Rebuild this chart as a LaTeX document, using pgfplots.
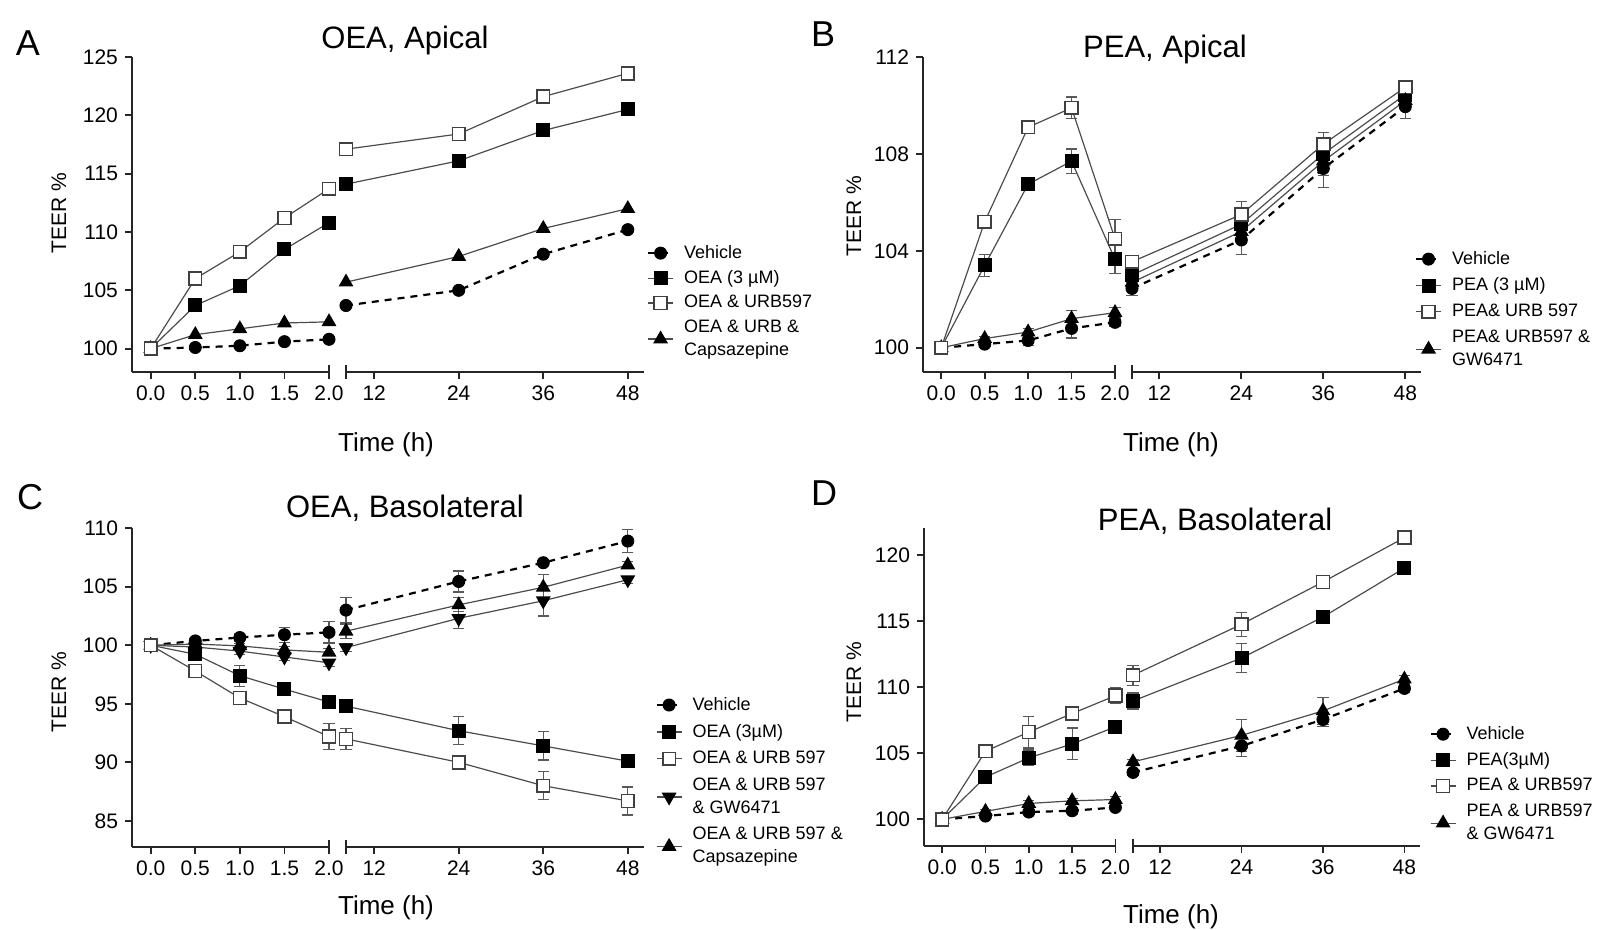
\documentclass[border=0pt]{standalone}
\usepackage{fontspec}
\setmainfont{Liberation Sans}
\usepackage{pgfplots}
\usepackage{pgfplotstable}
\pgfplotsset{compat=1.18}

% columns: time (h), mean TEER %, and SEM (e)
\pgfplotstableread{
t    veh    oea    urb    cap
0    100.0  100.0  100.0  100.0
0.5  100.1  103.7  106.0  101.2
1.0  100.25 105.4  108.3  101.7
1.5  100.6  108.5  111.2  102.2
2.0  100.8  110.8  113.7  102.3
8    103.7  114.1  117.1  105.7
24   105.0  116.1  118.4  107.9
36   108.1  118.7  121.6  110.3
48   110.2  120.5  123.6  112.0
}\tabA

\pgfplotstableread{
t    veh    vehe  pea    peae  urb    urbe  gw     gwe
0    100.0  0     100.0  0     100.0  0     100.0  0
0.5  100.15 0.15  103.4  0.45  105.2  0.2   100.38 0.1
1.0  100.3  0.2   106.75 0.1   109.1  0.1   100.65 0.15
1.5  100.8  0.4   107.7  0.5   109.9  0.45  101.2  0.35
2.0  101.05 0.15  103.65 0.6   104.5  0.8   101.45 0.2
8    102.45 0.3   103.0  0.3   103.55 0.2   102.7  0.3
24   104.45 0.6   105.1  0.6   105.5  0.55  104.8  0.5
36   107.4  0.8   108.0  0.5   108.4  0.5   107.7  0.6
48   109.95 0.5   110.45 0.3   110.75 0.2   110.2  0.3
}\tabB

\pgfplotstableread{
t    veh    vehe  oea    oeae  urb    urbe  gw     gwe   cap    cape
0    100.0  0     100.0  0     100.0  0     100.0  0     100.0  0
0.5  100.37 0.2   99.23  0.3   97.8   0.2   99.85  0.2   100.1  0.2
1.0  100.66 0.3   97.4   0.9   95.5   0.2   99.5   0.3   99.95  0.2
1.5  100.9  0.65  96.25  0.2   93.9   0.2   99.0   0.3   99.6   0.3
2.0  101.1  0.9   95.15  0.2   92.2   1.1   98.5   0.3   99.4   0.3
8    103.0  1.1   94.8   0.2   92.0   0.9   99.8   0.3   101.2  0.6
24   105.45 0.9   92.7   1.2   90.0   0.2   102.3  0.9   103.45 0.6
36   107.05 0.2   91.4   1.2   88.0   1.2   103.8  1.3   104.95 1.1
48   108.9  1.0   90.1   0.3   86.7   1.2   105.6  0.3   106.85 0.3
}\tabC

\pgfplotstableread{
t    veh    vehe  pea    peae  urb    urbe  gw     gwe
0    100.0  0     100.0  0     100.0  0     100.0  0
0.5  100.25 0.15  103.2  0.2   105.15 0.45  100.6  0.15
1.0  100.55 0.2   104.65 0.6   106.6  1.2   101.2  0.2
1.5  100.65 0.25  105.7  1.2   108.0  0.2   101.4  0.2
2.0  100.9  0.2   107.0  0.5   109.35 0.6   101.5  0.2
8    103.55 0.2   108.95 0.6   110.9  0.75  104.35 0.2
24   105.55 0.8   112.2  1.1   114.75 0.9   106.35 1.2
36   107.55 0.5   115.3  0.3   117.95 0.2   108.2  1.0
48   109.9  0.3   119.0  0.3   121.3  0.2   110.6  0.3
}\tabD

\pgfplotsset{
  brk/.style={scale only axis, clip=false,
    axis line style={line width=0.9pt, black!85, -},
    every outer x axis line/.append style={-},
    every outer y axis line/.append style={-},
    tick style={line width=0.9pt, black!85},
    tick align=outside, major tick length=3.5pt,
    tick label style={font=\fontsize{10.5}{12}\selectfont},
    /pgf/number format/assume math mode=true,
    legend image code/.code={\draw[mark repeat=2, mark phase=2, ##1] plot coordinates {(0pt,0pt) (6.25pt,0pt) (12.5pt,0pt)};},
  },
  lseg/.style={brk, axis x line*=bottom, axis y line*=left,
    xmin=-0.21, xmax=2, xtick={0,0.5,1,1.5,2}, xticklabels={0.0,0.5,1.0,1.5,2.0},
    restrict x to domain=-1:3},
  rseg/.style={brk, axis x line*=bottom, axis y line=none, ytick=\empty,
    xmin=8, xmax=50.3, xtick={12,24,36,48},
    restrict x to domain=7:60},
  leg/.style={legend cell align=left,
    legend style={at={#1}, anchor=north west, draw=none, fill=none,
      inner sep=0pt, outer sep=0pt, row sep=3.5pt, column sep=4.5pt,
      font=\fontsize{9}{11.5}\selectfont,
      nodes={inner sep=0.5pt, align=left}}},
  sveh/.style={black, line width=1.1pt, dash pattern=on 3.5pt off 3pt,
    mark=*, mark size=3pt, mark options={solid, fill=black, line width=0.5pt}},
  sfsq/.style={black!70, line width=0.6pt, mark=square*, mark size=3.2pt,
    mark options={solid, draw=black, fill=black}},
  sosq/.style={black!70, line width=0.6pt, mark=square*, mark size=3.2pt,
    mark options={solid, draw=black!75, fill=white, line width=0.8pt}},
  stri/.style={black!70, line width=0.6pt, mark=triangle*, mark size=3.7pt,
    mark options={solid, draw=black, fill=black}},
  sdtri/.style={black!70, line width=0.6pt, mark=triangle*, mark size=3.7pt,
    mark options={solid, draw=black, fill=black, rotate=180}},
  eb/.style={error bars/y dir=both, error bars/y explicit,
    error bars/error bar style={line width=0.6pt, black!65, solid},
    error bars/error mark options={rotate=90, line width=0.6pt, black!65, mark size=2.8pt, solid}},
}

\newcommand{\brkmark}[1]{\draw[line width=0.9pt, black!85] ([yshift=-3.5pt]rel axis cs:#1,0) -- ([yshift=3.5pt]rel axis cs:#1,0);}

\begin{document}
\begin{tikzpicture}
\path (0,0) rectangle (804pt,-465pt);

% ---------- A ----------
\begin{axis}[lseg, at={(66pt,-186pt)}, anchor=south west, width=98.5pt, height=157.5pt,
  ymin=98, ymax=125, ytick={100,105,...,125}]
\addplot[sveh] table[x=t, y=veh] {\tabA};
\addplot[stri] table[x=t, y=cap] {\tabA};
\addplot[sfsq] table[x=t, y=oea] {\tabA};
\addplot[sosq] table[x=t, y=urb] {\tabA};
\brkmark{1}
\end{axis}
\begin{axis}[rseg, at={(173pt,-186pt)}, anchor=south west, width=149pt, height=157.5pt,
  ymin=98, ymax=125, leg={(1.010,0.406)}]
\addplot[sveh] table[x=t, y=veh] {\tabA}; \addlegendentry{Vehicle}
\addplot[sfsq] table[x=t, y=oea] {\tabA}; \addlegendentry{OEA (3 µM)}
\addplot[sosq] table[x=t, y=urb] {\tabA}; \addlegendentry{OEA \& URB597}
\addplot[stri] table[x=t, y=cap] {\tabA}; \addlegendentry{OEA \& URB \&\\Capsazepine}
\brkmark{0}
\end{axis}

% ---------- B ----------
\begin{axis}[lseg, at={(461.5pt,-186pt)}, anchor=south west, width=96pt, height=157.5pt,
  ymin=99, ymax=112, ytick={100,104,108,112}]
\addplot[sveh, eb] table[x=t, y=veh, y error=vehe] {\tabB};
\addplot[stri, eb] table[x=t, y=gw, y error=gwe] {\tabB};
\addplot[sfsq, eb] table[x=t, y=pea, y error=peae] {\tabB};
\addplot[sosq, eb] table[x=t, y=urb, y error=urbe] {\tabB};
\brkmark{1}
\end{axis}
\begin{axis}[rseg, at={(566pt,-186pt)}, anchor=south west, width=144.5pt, height=157.5pt,
  ymin=99, ymax=112, leg={(0.979,0.387)}, legend style={row sep=4.2pt}]
\addplot[sveh, eb] table[x=t, y=veh, y error=vehe] {\tabB}; \addlegendentry{Vehicle}
\addplot[sfsq, eb] table[x=t, y=pea, y error=peae] {\tabB}; \addlegendentry{PEA (3 µM)}
\addplot[sosq, eb] table[x=t, y=urb, y error=urbe] {\tabB}; \addlegendentry{PEA\& URB 597}
\addplot[stri, eb] table[x=t, y=gw, y error=gwe] {\tabB}; \addlegendentry{PEA\& URB597 \&\\GW6471}
\brkmark{0}
\end{axis}

% ---------- C ----------
\begin{axis}[lseg, at={(66pt,-423.3pt)}, anchor=south west, width=98.5pt, height=159.2pt,
  ymin=82.8, ymax=110, ytick={85,90,...,110}]
\addplot[sveh, eb] table[x=t, y=veh, y error=vehe] {\tabC};
\addplot[stri, eb] table[x=t, y=cap, y error=cape] {\tabC};
\addplot[sdtri, eb] table[x=t, y=gw, y error=gwe] {\tabC};
\addplot[sfsq, eb] table[x=t, y=oea, y error=oeae] {\tabC};
\addplot[sosq, eb] table[x=t, y=urb, y error=urbe] {\tabC};
\brkmark{1}
\end{axis}
\begin{axis}[rseg, at={(173pt,-423.3pt)}, anchor=south west, width=149pt, height=159.2pt,
  ymin=82.8, ymax=110, leg={(1.0386,0.473)}, legend style={row sep=4.5pt}]
\addplot[sveh, eb] table[x=t, y=veh, y error=vehe] {\tabC}; \addlegendentry{Vehicle}
\addplot[sfsq, eb] table[x=t, y=oea, y error=oeae] {\tabC}; \addlegendentry{OEA (3µM)}
\addplot[sosq, eb] table[x=t, y=urb, y error=urbe] {\tabC}; \addlegendentry{OEA \& URB 597}
\addplot[sdtri, eb] table[x=t, y=gw, y error=gwe] {\tabC}; \addlegendentry{OEA \& URB 597\\\& GW6471}
\addplot[stri, eb] table[x=t, y=cap, y error=cape] {\tabC}; \addlegendentry{OEA \& URB 597 \&\\Capsazepine}
\brkmark{0}
\end{axis}

% ---------- D ----------
\begin{axis}[lseg, at={(462pt,-422.9pt)}, anchor=south west, width=95.7pt, height=158.7pt,
  ymin=98, ymax=122, ytick={100,105,...,120}]
\addplot[sveh, eb] table[x=t, y=veh, y error=vehe] {\tabD};
\addplot[stri, eb] table[x=t, y=gw, y error=gwe] {\tabD};
\addplot[sfsq, eb] table[x=t, y=pea, y error=peae] {\tabD};
\addplot[sosq, eb] table[x=t, y=urb, y error=urbe] {\tabD};
\brkmark{1}
\end{axis}
\begin{axis}[rseg, at={(566.5pt,-422.9pt)}, anchor=south west, width=143.5pt, height=158.7pt,
  ymin=98, ymax=122, leg={(1.033,0.380)}, legend style={row sep=4pt}]
\addplot[sveh, eb] table[x=t, y=veh, y error=vehe] {\tabD}; \addlegendentry{Vehicle}
\addplot[sfsq, eb] table[x=t, y=pea, y error=peae] {\tabD}; \addlegendentry{PEA(3µM)}
\addplot[sosq, eb] table[x=t, y=urb, y error=urbe] {\tabD}; \addlegendentry{PEA \& URB597}
\addplot[stri, eb] table[x=t, y=gw, y error=gwe] {\tabD}; \addlegendentry{PEA \& URB597\\\& GW6471}
\brkmark{0}
\end{axis}

% titles, panel letters, axis labels
\begin{scope}[every node/.style={inner sep=0pt}]
\node[font=\fontsize{15.5}{18}\selectfont] at (202.5pt,-20pt) {OEA, Apical};
\node[font=\fontsize{15.5}{18}\selectfont] at (582.5pt,-24.5pt) {PEA, Apical};
\node[font=\fontsize{15.5}{18}\selectfont] at (202.5pt,-254pt) {OEA, Basolateral};
\node[font=\fontsize{15.5}{18}\selectfont] at (607.5pt,-260.5pt) {PEA, Basolateral};
\node[font=\fontsize{18}{20}\selectfont] at (14pt,-21.5pt) {A};
\node[font=\fontsize{18}{20}\selectfont] at (411.5pt,-17pt) {B};
\node[font=\fontsize{18}{20}\selectfont] at (15pt,-248.5pt) {C};
\node[font=\fontsize{18}{20}\selectfont] at (412pt,-246.5pt) {D};
\node[font=\fontsize{13}{15}\selectfont] at (193pt,-222.5pt) {Time (h)};
\node[font=\fontsize{13}{15}\selectfont] at (585.5pt,-222.5pt) {Time (h)};
\node[font=\fontsize{13}{15}\selectfont] at (193pt,-454pt) {Time (h)};
\node[font=\fontsize{13}{15}\selectfont] at (585.5pt,-458.5pt) {Time (h)};
\node[rotate=90, font=\fontsize{10.5}{12}\selectfont] at (29.5pt,-106.5pt) {TEER \%};
\node[rotate=90, font=\fontsize{10.5}{12}\selectfont] at (427pt,-108pt) {TEER \%};
\node[rotate=90, font=\fontsize{10.5}{12}\selectfont] at (29.5pt,-346pt) {TEER \%};
\node[rotate=90, font=\fontsize{10.5}{12}\selectfont] at (427pt,-341pt) {TEER \%};
\end{scope}
\end{tikzpicture}
\end{document}
